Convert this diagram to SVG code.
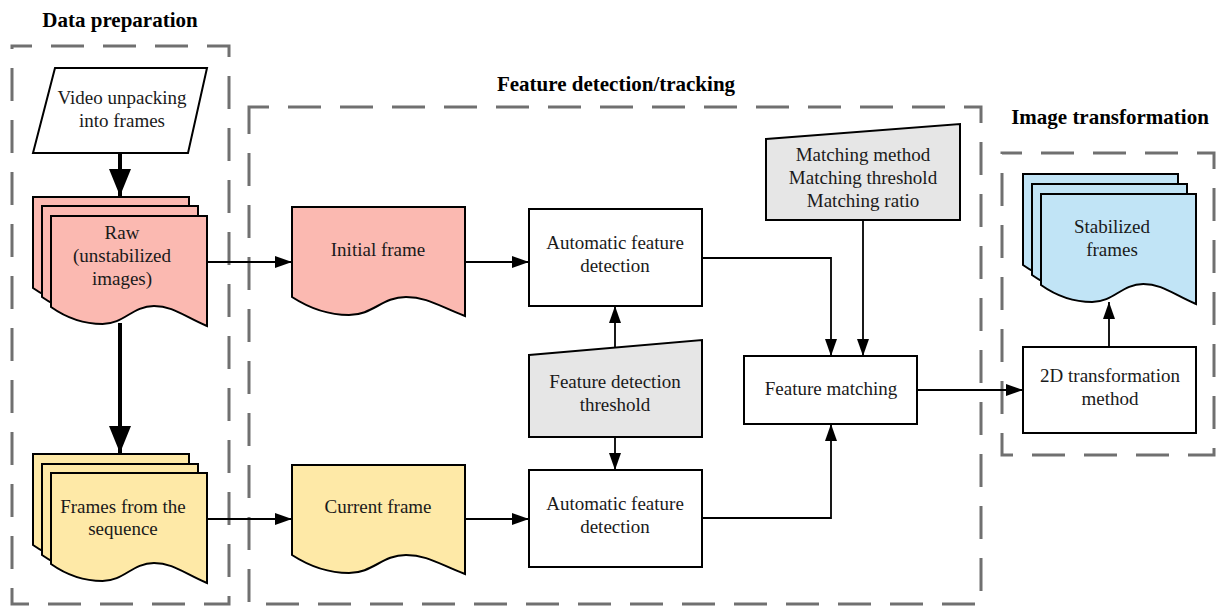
<svg xmlns="http://www.w3.org/2000/svg" width="1216" height="607" viewBox="0 0 1216 607">
<style>
.t{font-family:"Liberation Serif","Times New Roman",serif;font-size:19px;fill:#1a1a1a;text-anchor:middle}
.h{font-family:"Liberation Serif","Times New Roman",serif;font-size:21px;font-weight:bold;fill:#000;text-anchor:middle}
.grp{fill:none;stroke:#707070;stroke-width:3;stroke-dasharray:33 19;stroke-dashoffset:13}
.s{stroke:#000;stroke-width:2;stroke-linejoin:miter}
.pink{fill:#fbb9b1}
.yel{fill:#fee9a7}
.blue{fill:#c1e4f6}
.gray{fill:#e6e6e6}
.white{fill:#fff}
.c{fill:none;stroke:#000;stroke-width:1.8}
.ck{fill:none;stroke:#000;stroke-width:4}
</style>
<defs>
<marker id="a" markerUnits="userSpaceOnUse" markerWidth="18" markerHeight="13" refX="17" refY="6" orient="auto"><path d="M0,0 L17,6 L0,12 Z" fill="#000"/></marker>
<marker id="ak" markerUnits="userSpaceOnUse" markerWidth="28" markerHeight="22" refX="27" refY="11" orient="auto"><path d="M0,0 L27,11 L0,22 Z" fill="#000"/></marker>
</defs>
<rect width="1216" height="607" fill="#fff"/>

<g id="group-data">
<rect class="grp" x="12" y="46" width="217" height="558"/>
<text class="h" x="120" y="27">Data preparation</text>
</g>
<g id="group-feature">
<rect class="grp" x="249" y="107" width="732" height="497"/>
<text class="h" x="616" y="91">Feature detection/tracking</text>
</g>
<g id="group-image">
<rect class="grp" x="1002" y="153" width="212" height="302"/>
<text class="h" x="1110" y="124">Image transformation</text>
</g>

<g id="connectors">
<path class="ck" d="M120,153 V196" marker-end="url(#ak)"/>
<path class="ck" d="M120,323 V453" marker-end="url(#ak)"/>
<path class="c" d="M207,262 H292" marker-end="url(#a)"/>
<path class="c" d="M465,262 H529" marker-end="url(#a)"/>
<path class="c" d="M207,519 H292" marker-end="url(#a)"/>
<path class="c" d="M465,519 H529" marker-end="url(#a)"/>
<path class="c" d="M615,348 V306" marker-end="url(#a)"/>
<path class="c" d="M615,437 V470" marker-end="url(#a)"/>
<path class="c" d="M702,258 H831 V356" marker-end="url(#a)"/>
<path class="c" d="M863,220 V356" marker-end="url(#a)"/>
<path class="c" d="M702,518 H831 V424" marker-end="url(#a)"/>
<path class="c" d="M917,390 H1023" marker-end="url(#a)"/>
<path class="c" d="M1109,347 V302" marker-end="url(#a)"/>
</g>

<g id="video-unpacking">
<polygon class="s white" points="55,68 207,68 188,153 33,153"/>
<text class="t" x="122" y="104">Video unpacking</text>
<text class="t" x="122" y="127">into frames</text>
</g>

<g id="raw-images">
<path class="s pink" d="M33,197 H189 V307 C165.6,297 154.7,287 136,287 C114.1,287 106.3,305 84.5,305 C64.2,305 48.6,299 33,288 Z"/>
<path class="s pink" d="M42,206 H198 V316 C174.6,306 163.7,296 145,296 C123.1,296 115.3,314 93.5,314 C73.2,314 57.6,308 42,297 Z"/>
<path class="s pink" d="M51,216 H207 V326 C183.6,316 172.7,306 154,306 C132.1,306 124.3,324 102.5,324 C82.2,324 66.6,318 51,307 Z"/>
<text class="t" x="122" y="239">Raw</text>
<text class="t" x="122" y="262">(unstabilized</text>
<text class="t" x="122" y="285">images)</text>
</g>

<g id="frames-sequence">
<path class="s yel" d="M33,454 H189 V564 C165.6,554 154.7,544 136,544 C114.1,544 106.3,562 84.5,562 C64.2,562 48.6,556 33,545 Z"/>
<path class="s yel" d="M42,464 H198 V574 C174.6,564 163.7,554 145,554 C123.1,554 115.3,572 93.5,572 C73.2,572 57.6,566 42,555 Z"/>
<path class="s yel" d="M51,473 H207 V583 C183.6,573 172.7,563 154,563 C132.1,563 124.3,581 102.5,581 C82.2,581 66.6,575 51,564 Z"/>
<text class="t" x="123" y="513">Frames from the</text>
<text class="t" x="123" y="535">sequence</text>
</g>

<g id="initial-frame">
<path class="s pink" d="M292,207 H465 V316 C439,306 427,297 406,297 C382,297 373,315 349,315 C327,315 309,308 292,297 Z"/>
<text class="t" x="378" y="256">Initial frame</text>
</g>

<g id="current-frame">
<path class="s yel" d="M292,465 H465 V574 C439,564 427,555 406,555 C382,555 373,573 349,573 C327,573 309,566 292,555 Z"/>
<text class="t" x="378" y="513">Current frame</text>
</g>

<g id="auto-detect-top">
<rect class="s white" x="529" y="209" width="173" height="97"/>
<text class="t" x="615" y="249">Automatic feature</text>
<text class="t" x="615" y="272">detection</text>
</g>

<g id="detection-threshold">
<polygon class="s gray" points="529,355 702,340 702,437 529,437"/>
<text class="t" x="615" y="388">Feature detection</text>
<text class="t" x="615" y="411">threshold</text>
</g>

<g id="auto-detect-bottom">
<rect class="s white" x="529" y="470" width="173" height="97"/>
<text class="t" x="615" y="510">Automatic feature</text>
<text class="t" x="615" y="533">detection</text>
</g>

<g id="matching-params">
<polygon class="s gray" points="766,139 960,124 960,220 766,220"/>
<text class="t" x="863" y="161">Matching method</text>
<text class="t" x="863" y="184">Matching threshold</text>
<text class="t" x="863" y="207">Matching ratio</text>
</g>

<g id="feature-matching">
<rect class="s white" x="744" y="356" width="173" height="68"/>
<text class="t" x="831" y="395">Feature matching</text>
</g>

<g id="transformation-method">
<rect class="s white" x="1023" y="347" width="173" height="86"/>
<text class="t" x="1110" y="382">2D transformation</text>
<text class="t" x="1110" y="405">method</text>
</g>

<g id="stabilized-frames">
<path class="s blue" d="M1023,174 H1178 V284 C1154.75,274 1143.9,264 1125.3,264 C1103.6,264 1095.85,282 1074.15,282 C1054,282 1038.5,276 1023,265 Z"/>
<path class="s blue" d="M1032,184 H1187 V294 C1163.75,284 1152.9,274 1134.3,274 C1112.6,274 1104.85,292 1083.15,292 C1063,292 1047.5,286 1032,275 Z"/>
<path class="s blue" d="M1041,194 H1196 V304 C1172.75,294 1161.9,284 1143.3,284 C1121.6,284 1113.85,302 1092.15,302 C1072,302 1056.5,296 1041,285 Z"/>
<text class="t" x="1112" y="233">Stabilized</text>
<text class="t" x="1112" y="256">frames</text>
</g>
</svg>
